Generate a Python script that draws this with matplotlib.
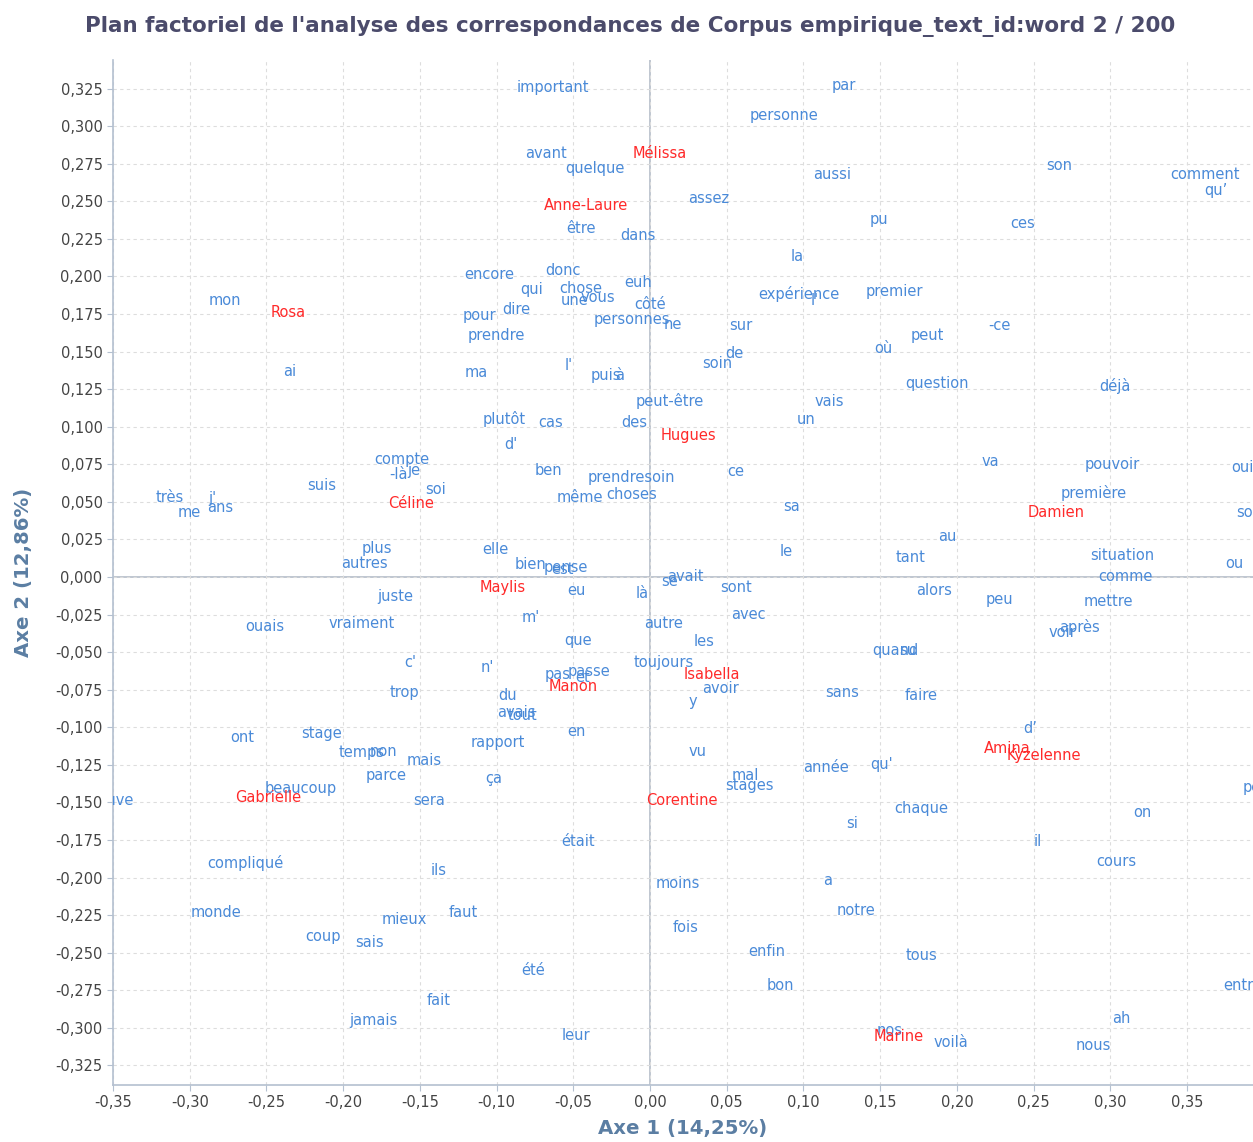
import numpy as np
import matplotlib.pyplot as plt
from matplotlib.ticker import MultipleLocator, FuncFormatter

# mots (colonnes) et textes (lignes) du plan factoriel
words = ["important", "par", "personne", "avant", "quelque", "aussi", "son", "comment", "qu’",
         "assez", "pu", "ces", "être", "dans", "la", "encore", "donc", "qui", "chose", "euh",
         "une", "vous", "expérience", "l'", "premier", "mon", "côté", "pour", "dire",
         "personnes", "ne", "sur", "-ce", "peut", "prendre", "où", "de", "l'", "soin", "ai",
         "ma", "puis", "à", "question", "déjà", "peut-être", "vais", "plutôt", "cas", "des",
         "un", "d'", "compte", "-là", "je", "va", "pouvoir", "oui", "suis", "ben",
         "prendresoin", "soi", "très", "j'", "ans", "me", "même", "choses", "première", "ce",
         "sa", "souvent", "au", "plus", "autres", "elle", "bien", "pense", "est", "le", "tant",
         "situation", "ou", "se", "avait", "comme", "eu", "là", "sont", "alors", "juste",
         "peu", "mettre", "avec", "m'", "ouais", "vraiment", "autre", "après", "voir", "que",
         "les", "quand", "su", "c'", "n'", "toujours", "pas", "et", "passe", "avoir", "trop",
         "sans", "faire", "du", "y", "avais", "tout", "d’", "ont", "stage", "en", "rapport",
         "temps", "non", "vu", "mais", "année", "qu'", "mal", "parce", "ça", "stages",
         "beaucoup", "petit", "trouve", "sera", "chaque", "on", "si", "était", "il",
         "compliqué", "cours", "ils", "a", "moins", "notre", "monde", "faut", "mieux", "fois",
         "coup", "sais", "enfin", "tous", "été", "bon", "entre", "fait", "ah", "jamais",
         "leur", "nos", "voilà", "nous"]
word_x = [-0.063, 0.126, 0.087, -0.068, -0.036, 0.119, 0.267, 0.362, 0.369,
          0.038, 0.149, 0.243, -0.045, -0.008, 0.096, -0.105, -0.057, -0.077, -0.045, -0.008,
          -0.049, -0.034, 0.097, 0.107, 0.159, -0.277, 0.000, -0.111, -0.087,
          -0.012, 0.015, 0.059, 0.228, 0.181, -0.100, 0.152, 0.055, -0.053, 0.044, -0.235,
          -0.113, -0.029, -0.020, 0.187, 0.303, 0.013, 0.117, -0.095, -0.065, -0.010,
          0.102, -0.091, -0.162, -0.164, -0.154, 0.222, 0.301, 0.386, -0.214, -0.066,
          -0.012, -0.140, -0.313, -0.285, -0.280, -0.300, -0.046, -0.012, 0.289, 0.056,
          0.092, 0.401, 0.194, -0.178, -0.186, -0.101, -0.078, -0.055, -0.057, 0.089, 0.170,
          0.308, 0.381, 0.013, 0.023, 0.310, -0.048, -0.005, 0.056, 0.185, -0.166,
          0.228, 0.299, 0.064, -0.078, -0.251, -0.188, 0.009, 0.280, 0.269, -0.047,
          0.035, 0.160, 0.168, -0.156, -0.106, 0.009, -0.060, -0.044, -0.040, 0.046, -0.160,
          0.125, 0.177, -0.093, 0.028, -0.087, -0.083, 0.248, -0.266, -0.214, -0.048, -0.099,
          -0.188, -0.174, 0.031, -0.147, 0.115, 0.151, 0.062, -0.172, -0.102, 0.065,
          -0.228, 0.397, -0.352, -0.144, 0.177, 0.321, 0.132, -0.047, 0.253,
          -0.264, 0.304, -0.138, 0.116, 0.018, 0.134, -0.283, -0.122, -0.160, 0.023,
          -0.213, -0.183, 0.076, 0.177, -0.076, 0.085, 0.386, -0.138, 0.307, -0.180,
          -0.048, 0.156, 0.196, 0.289]
word_y = [0.326, 0.327, 0.307, 0.282, 0.272, 0.268, 0.274, 0.268, 0.257,
          0.252, 0.238, 0.235, 0.232, 0.227, 0.213, 0.201, 0.204, 0.191, 0.192, 0.196,
          0.184, 0.186, 0.188, 0.184, 0.190, 0.184, 0.181, 0.174, 0.178,
          0.171, 0.168, 0.167, 0.167, 0.161, 0.161, 0.152, 0.149, 0.141, 0.142, 0.137,
          0.136, 0.134, 0.134, 0.129, 0.127, 0.117, 0.117, 0.105, 0.103, 0.103,
          0.105, 0.088, 0.078, 0.068, 0.071, 0.077, 0.075, 0.073, 0.061, 0.071,
          0.066, 0.058, 0.053, 0.052, 0.046, 0.043, 0.053, 0.055, 0.056, 0.070,
          0.047, 0.043, 0.027, 0.019, 0.009, 0.018, 0.008, 0.006, 0.005, 0.017, 0.013,
          0.014, 0.009, -0.003, 0.000, 0.000, -0.009, -0.011, -0.007, -0.009, -0.013,
          -0.015, -0.016, -0.025, -0.027, -0.033, -0.031, -0.031, -0.033, -0.037, -0.042,
          -0.043, -0.049, -0.049, -0.057, -0.060, -0.057, -0.065, -0.067, -0.063, -0.074, -0.077,
          -0.077, -0.079, -0.079, -0.083, -0.090, -0.092, -0.101, -0.107, -0.104, -0.103, -0.110,
          -0.117, -0.116, -0.116, -0.122, -0.127, -0.125, -0.132, -0.132, -0.134, -0.139,
          -0.141, -0.140, -0.149, -0.149, -0.154, -0.157, -0.164, -0.176, -0.176,
          -0.190, -0.189, -0.195, -0.202, -0.204, -0.222, -0.223, -0.223, -0.228, -0.233,
          -0.239, -0.243, -0.249, -0.252, -0.262, -0.272, -0.272, -0.282, -0.294, -0.295,
          -0.305, -0.302, -0.310, -0.312]

texts = ["Mélissa", "Anne-Laure", "Rosa", "Hugues", "Céline", "Damien", "Maylis",
         "Isabella", "Manon", "Amina", "Kyzelenne", "Gabrielle", "Corentine", "Marine"]
text_x = [0.0065, -0.042, -0.236, 0.025, -0.156, 0.265, -0.096,
          0.040, -0.050, 0.233, 0.257, -0.249, 0.021, 0.162]
text_y = [0.282, 0.247, 0.176, 0.094, 0.049, 0.043, -0.007,
          -0.065, -0.073, -0.114, -0.119, -0.147, -0.149, -0.306]

fig = plt.figure(figsize=(12.53, 11.42), dpi=100)
ax = fig.add_axes([0.0902, 0.0499, 0.9098, 0.8976])

for w, x, y in zip(words, word_x, word_y):
    ax.text(x, y, w, color='#4a8ad8', fontsize=10.5, ha='center', va='center', clip_on=True)
for t, x, y in zip(texts, text_x, text_y):
    ax.text(x, y, t, color='#ff2a2a', fontsize=10.5, ha='center', va='center', clip_on=True)

ax.set_xlim(-0.35, 0.393)
ax.set_ylim(-0.338, 0.344)

ax.axhline(0, color='#b4bcc8', lw=1.2, zorder=0)
ax.axvline(0, color='#b4bcc8', lw=1.2, zorder=0)

ax.xaxis.set_major_locator(MultipleLocator(0.05))
ax.yaxis.set_major_locator(MultipleLocator(0.025))
ax.xaxis.set_major_formatter(FuncFormatter(lambda v, p: ('%.2f' % v).replace('.', ',').replace('-0,00', '0,00')))
ax.yaxis.set_major_formatter(FuncFormatter(lambda v, p: ('%.3f' % v).replace('.', ',').replace('-0,000', '0,000')))
ax.tick_params(colors='#b4c0d0', labelcolor='#444444', labelsize=10.5, length=4, direction='out')
ax.grid(True, linestyle=(0, (3, 3)), color='#dddddd', linewidth=0.8)
ax.set_axisbelow(True)

for side in ['top', 'right']:
    ax.spines[side].set_visible(False)
for side in ['left', 'bottom']:
    ax.spines[side].set_color('#b4c0d0')
    ax.spines[side].set_linewidth(1.2)

ax.set_xlabel('Axe 1 (14,25%)', fontsize=14.2, fontweight='bold', color='#5b7ea3', labelpad=6)
ax.set_ylabel('Axe 2 (12,86%)', fontsize=14.2, fontweight='bold', color='#5b7ea3', labelpad=16)
fig.text(0.503, 0.977, "Plan factoriel de l'analyse des correspondances de Corpus empirique_text_id:word 2 / 200",
         ha='center', va='center', fontsize=15.5, fontweight='bold', color='#4b4b6b')

plt.savefig('out.png', dpi=100)
